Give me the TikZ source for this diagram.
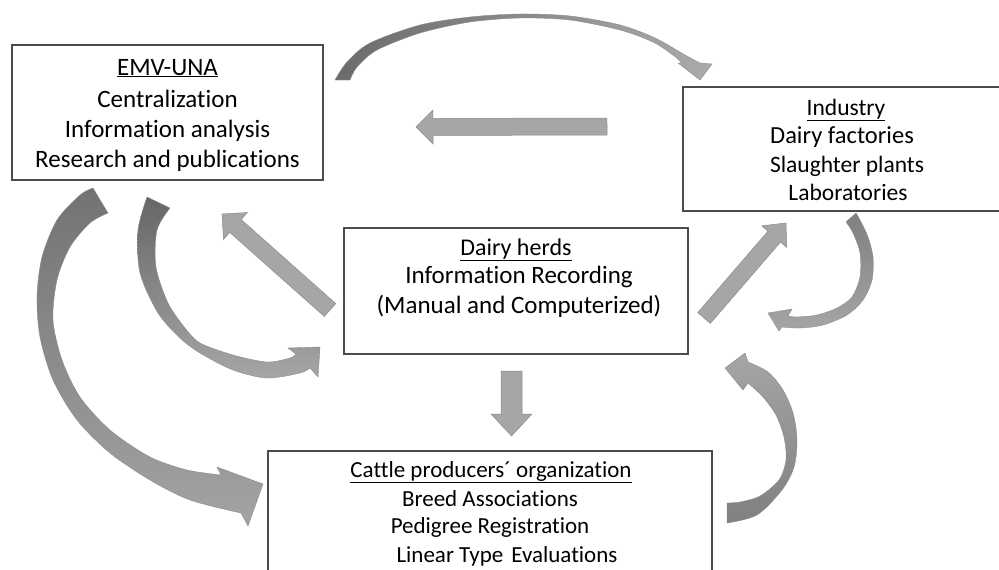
\documentclass[tikz,border=0pt]{standalone}
\usepackage{fontspec}
\setmainfont{Carlito}[Ligatures=CommonOff]
\usetikzlibrary{calc}
\tikzset{
  box/.style={draw=black!70, line width=1.1pt, fill=white, inner sep=0pt},
  txt/.style={anchor=base, inner sep=0pt, text=black},
  blockarr/.style={fill=black!35, draw=black!45, line width=0.5pt, line join=miter},
  ribbon/.style={draw=black!45, line width=0.4pt, line join=round},
}
% #1 tail, #2 tip, #3 shaft half-width, #4 head half-width, #5 head length
\newcommand{\blockarrow}[5]{%
  \path[blockarr]
    ($#1!#3!90:#2$) -- ($($#2!#5!#1$)!#3!-90:#1$) -- ($($#2!#5!#1$)!#4!-90:#1$)
    -- #2 -- ($($#2!#5!#1$)!#4!90:#1$) -- ($($#2!#5!#1$)!#3!90:#1$)
    -- ($#1!#3!-90:#2$) -- cycle;}
\newcommand{\fs}[1]{\fontsize{#1}{#1}\selectfont}
\begin{document}
\begin{tikzpicture}[x=1pt,y=-1pt]
\useasboundingbox (0,0) rectangle (999,570);
\clip (0,0) rectangle (999,570);
\fill[white] (0,0) rectangle (999,570);

% boxes
\node[box, minimum width=311pt, minimum height=135pt] (emv) at (167.5,112.5) {};
\node[box, minimum width=327pt, minimum height=124pt] (ind) at (846.5,149) {};
\node[box, minimum width=344pt, minimum height=126pt] (herd) at (516,291) {};
\node[box, minimum width=444pt, minimum height=139pt] (cattle) at (490,520.5) {};

% texts
\node[txt] (emv1) at (167.5,75) {\fs{25}\underline{EMV-UNA}};
\node[txt] (emv2) at (167.5,107) {\fs{25}Centralization};
\node[txt] (emv3) at (167.5,137) {\fs{25}Information analysis};
\node[txt] (emv4) at (167.5,167) {\fs{25}Research and publications};

\node[txt] (ind1) at (846,115) {\fs{23.5}\underline{Industry}};
\node[txt] (ind2) at (842,143) {\fs{24.5}Dairy factories};
\node[txt] (ind3) at (847,172) {\fs{23.5}Slaughter plants};
\node[txt] (ind4) at (848,200) {\fs{23.5}Laboratories};

\node[txt] (herd1) at (516,255) {\fs{24}\underline{Dairy herds}};
\node[txt] (herd2) at (519,283) {\fs{25}Information Recording};
\node[txt] (herd3) at (519,313) {\fs{25}(Manual and Computerized)};

\node[txt] (cat1) at (491,477) {\fs{23}\underline{Cattle producers´ organization}};
\node[txt] (cat2) at (490,506) {\fs{23}Breed Associations};
\node[txt] (cat3) at (490,533) {\fs{23}Pedigree Registration};
\node[txt] (cat4) at (507,562) {\fs{23}Linear Type\hspace{8pt}Evaluations};

% straight block arrows
\blockarrow{(607,126.5)}{(416,127)}{8.5pt}{17pt}{17pt}
\blockarrow{(511.5,371)}{(511.5,436)}{10.5pt}{20.5pt}{22pt}
\blockarrow{(330,310)}{(222,214)}{8.6pt}{18pt}{18pt}
\blockarrow{(704,318)}{(786,223)}{8.3pt}{16.5pt}{18pt}

% top curved arrow EMV -> Industry
\path[ribbon, left color=black!58, right color=black!33]
  plot[smooth] coordinates {(335,80) (347,62) (370,43) (420,25) (470,17) (520,14) (570,16) (620,25) (655,38) (685,55) (700,63)}
  -- (712,64) -- (700,80) -- (678,63) -- (682,63)
  -- plot[smooth] coordinates {(682,63) (673,55) (653,42) (620,30) (570,20) (520,18) (470,22) (420,33) (377,50) (357,67) (350,80)}
  -- cycle;

% big left curved arrow EMV -> Cattle
\path[ribbon, top color=black!55, bottom color=black!36]
  plot[smooth] coordinates {(93,188) (80,195) (57,220) (42,257) (37,297) (40,337) (53,380) (77,420) (110,453) (150,480) (190,500) (241,513)}
  -- (248,526) -- (263,484) -- (217,467) -- (221,475)
  -- plot[smooth] coordinates {(221,475) (187,470) (150,457) (110,430) (80,397) (62,360) (53,320) (57,280) (70,247) (90,223) (108,213)}
  -- cycle;

% second left curved arrow EMV -> Dairy herds
\path[ribbon, top color=black!60, bottom color=black!35]
  plot[smooth] coordinates {(147,197) (138,230) (140,273) (158,313) (180,338) (200,353) (233,370) (267,378) (300,373) (310,368)}
  -- (318,377) -- (320,347) -- (288,348) -- (296,354)
  -- plot[smooth] coordinates {(296,354) (290,358) (267,362) (233,355) (200,343) (185,328) (168,303) (156,267) (157,230) (170,208)}
  -- cycle;

% right curved arrow Industry -> Dairy herds side
\path[ribbon, top color=black!50, bottom color=black!35]
  plot[smooth] coordinates {(856,213) (860,220) (868,237) (873,257) (872,280) (863,300) (847,315) (823,325) (800,328) (782,327)}
  -- (779,331) -- (768,313) -- (792,309) -- (788,316)
  -- plot[smooth] coordinates {(788,316) (797,317) (817,315) (837,308) (852,297) (860,277) (860,253) (853,233) (846,222)}
  -- cycle;

% bottom right curved arrow Cattle -> Dairy herds
\path[ribbon, top color=black!35, bottom color=black!50]
  plot[smooth] coordinates {(727,523) (757,515) (782,490) (794,467) (797,440) (793,413) (783,390) (768,372) (748,362)}
  -- (745,353) -- (725,368) -- (743,390) -- (748,383)
  -- plot[smooth] coordinates {(748,383) (763,397) (776,415) (784,437) (786,460) (779,480) (760,496) (740,502) (727,503)}
  -- cycle;
\end{tikzpicture}
\end{document}
